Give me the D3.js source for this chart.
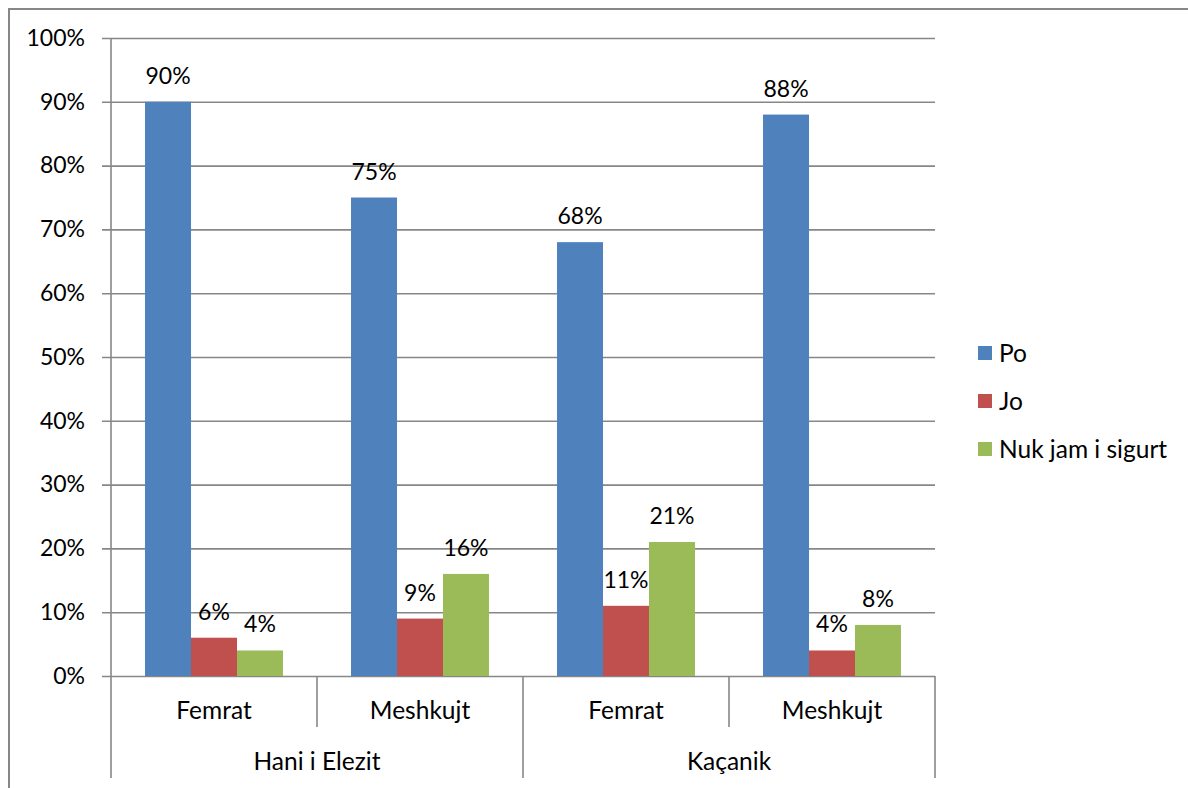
<!DOCTYPE html>
<html>
<head>
<meta charset="utf-8">
<script src="https://cdn.jsdelivr.net/npm/d3@7"></script>
<style>
  html, body { margin: 0; padding: 0; background: #ffffff; }
  svg { display: block; }
  text { font-family: Lato, "Open Sans", sans-serif; fill: #000; }
</style>
</head>
<body>
<svg id="chart" width="1188" height="788"></svg>
<script>
// Survey responses by region and gender
const groups = ["Hani i Elezit", "Kaçanik"];
const categories = ["Femrat", "Meshkujt", "Femrat", "Meshkujt"];
const categoryGroup = [0, 0, 1, 1];
const seriesNames = ["Po", "Jo", "Nuk jam i sigurt"];
const po = [90, 75, 68, 88];
const jo = [6, 9, 11, 4];
const nuk = [4, 16, 21, 8];
const seriesValues = [po, jo, nuk];
const seriesColors = ["#4F81BD", "#C0504D", "#9BBB59"];
const yTicks = [0, 10, 20, 30, 40, 50, 60, 70, 80, 90, 100];

const svg = d3.select("#chart");
const axisColor = "#878787";
const numSize = 23;   // numeric labels
const wordSize = 24.5; // category, group and legend labels

const plot = { left: 111, right: 935, top: 38, bottom: 676 };

const y = d3.scaleLinear().domain([0, 100]).range([plot.bottom, plot.top]);
const x0 = d3.scaleBand()
  .domain(d3.range(categories.length))
  .range([plot.left, plot.right])
  .paddingInner(0).paddingOuter(0);
const x1 = d3.scaleBand()
  .domain(d3.range(seriesNames.length))
  .range([0, x0.bandwidth()])
  .paddingInner(0)
  .paddingOuter(0.74);

// Frame around the chart area
svg.append("path")
  .attr("d", `M9,788 V9 H1188`)
  .attr("fill", "none")
  .attr("stroke", axisColor)
  .attr("stroke-width", 2);

// Gridlines and y tick labels
const yAxis = d3.axisLeft(y)
  .tickValues(yTicks)
  .tickSize(-(plot.right - plot.left + 9))
  .tickPadding(17)
  .tickFormat(d => d + "%");

const gy = svg.append("g")
  .attr("transform", `translate(${plot.left - 9},0)`)
  .call(yAxis);
gy.select(".domain").remove();
gy.selectAll(".tick line").attr("stroke", axisColor).attr("stroke-width", 1.6);
gy.selectAll(".tick text")
  .style("font-family", "Lato, 'Open Sans', sans-serif")
  .style("font-size", numSize + "px")
  .attr("fill", "#000");

// Bars
const cat = svg.append("g").selectAll("g")
  .data(categories.map((c, i) => i))
  .join("g")
  .attr("transform", i => `translate(${x0(i)},0)`);

cat.selectAll("rect")
  .data(i => seriesValues.map((vals, s) => ({ s, v: vals[i] })))
  .join("rect")
  .attr("x", d => x1(d.s))
  .attr("y", d => y(d.v))
  .attr("width", x1.bandwidth())
  .attr("height", d => y(0) - y(d.v))
  .attr("fill", d => seriesColors[d.s]);

// Value labels
cat.selectAll("text")
  .data(i => seriesValues.map((vals, s) => ({ s, v: vals[i] })))
  .join("text")
  .attr("x", d => x1(d.s) + x1.bandwidth() / 2)
  .attr("y", d => y(d.v) - 18)
  .attr("text-anchor", "middle")
  .style("font-size", numSize + "px")
  .text(d => d.v + "%");

// Vertical value axis line and category separators
const axisG = svg.append("g").attr("stroke", axisColor).attr("stroke-width", 1.6);
axisG.append("line")
  .attr("x1", plot.left).attr("x2", plot.left)
  .attr("y1", plot.top).attr("y2", 778);

const boundaries = d3.range(categories.length + 1).map(i =>
  i < categories.length ? x0(i) : x0(i - 1) + x0.bandwidth());
boundaries.forEach((bx, i) => {
  if (i === 0) return;
  const isGroupEdge = i === categories.length || categoryGroup[i] !== categoryGroup[i - 1];
  axisG.append("line")
    .attr("x1", bx).attr("x2", bx)
    .attr("y1", plot.bottom)
    .attr("y2", isGroupEdge ? 778 : 727);
});

// Category labels
svg.append("g").selectAll("text")
  .data(categories)
  .join("text")
  .attr("x", (d, i) => x0(i) + x0.bandwidth() / 2)
  .attr("y", 719)
  .attr("text-anchor", "middle")
  .style("font-size", wordSize + "px")
  .text(d => d);

// Group labels
svg.append("g").selectAll("text")
  .data(groups)
  .join("text")
  .attr("x", (g, gi) => {
    const idx = categoryGroup.map((v, i) => v === gi ? i : -1).filter(i => i >= 0);
    const start = x0(idx[0]);
    const end = x0(idx[idx.length - 1]) + x0.bandwidth();
    return (start + end) / 2;
  })
  .attr("y", 770)
  .attr("text-anchor", "middle")
  .style("font-size", wordSize + "px")
  .text(d => d);

// Legend
const legend = svg.append("g").attr("transform", "translate(978,346)");
const li = legend.selectAll("g")
  .data(seriesNames)
  .join("g")
  .attr("transform", (d, i) => `translate(0,${i * 48})`);
li.append("rect")
  .attr("width", 14).attr("height", 14)
  .attr("fill", (d, i) => seriesColors[i]);
li.append("text")
  .attr("x", 21)
  .attr("y", 7)
  .attr("dy", "0.35em")
  .style("font-size", wordSize + "px")
  .text(d => d);
</script>
</body>
</html>
